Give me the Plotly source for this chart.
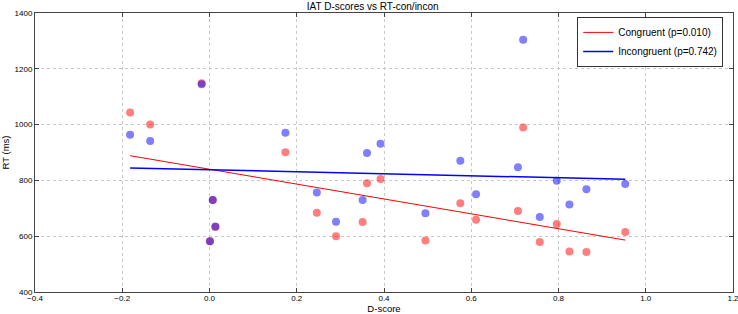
import numpy as np
import plotly.graph_objects as go

d_scores = [-0.182, -0.136, -0.018, 0.0075, 0.0135, 0.001, 0.174, 0.246, 0.290, 0.351, 0.361,
            0.392, 0.495, 0.575, 0.611, 0.719, 0.707, 0.757, 0.796, 0.825, 0.864, 0.953]
rt_congruent = [1043, 1000, 1148, 730, 633, 582, 901, 684, 600, 651, 790,
                805, 585, 718, 659, 990, 690, 579, 644, 545, 543, 615]
rt_incongruent = [964, 941, 1145, 730, 635, 582, 971, 757, 652, 730, 898,
                  931, 682, 870, 750, 1304, 847, 669, 799, 714, 768, 787]
legend_labels = ["Congruent (p=0.010)", "Incongruent (p=0.742)"]
title_text = "IAT D-scores vs RT-con/incon"

x = np.array(d_scores)
FONT = "Liberation Sans, Arial, sans-serif"

fig = go.Figure()
fig.add_trace(go.Scatter(x=d_scores, y=rt_congruent, mode="markers", showlegend=False,
                         marker=dict(color="rgba(255,0,0,0.5)", size=8, line=dict(width=0))))
fig.add_trace(go.Scatter(x=d_scores, y=rt_incongruent, mode="markers", showlegend=False,
                         marker=dict(color="rgba(0,0,255,0.5)", size=8, line=dict(width=0))))

for ys, col, w, name in [(rt_congruent, "red", 1, legend_labels[0]),
                         (rt_incongruent, "blue", 1.5, legend_labels[1])]:
    m, b = np.polyfit(x, np.array(ys, dtype=float), 1)
    xs = np.array([x.min(), x.max()])
    fig.add_trace(go.Scatter(x=xs, y=m * xs + b, mode="lines", name=name,
                             line=dict(color=col, width=w)))

axis_common = dict(showline=True, linecolor="#444", linewidth=1, mirror="ticks",
                   ticks="inside", ticklen=4, tickcolor="#444",
                   showgrid=True, gridcolor="#c8c8c8", griddash="dot", gridwidth=1,
                   zeroline=False, tickfont=dict(family=FONT, size=8, color="black"),
                   automargin=False, ticklabeloverflow="allow")

fig.update_xaxes(range=[-0.4, 1.2], dtick=0.2, tickformat=".1f", ticklabelstandoff=-2,
                 title=dict(text="D-score", font=dict(family=FONT, size=9.5, color="black"), standoff=1),
                 **axis_common)
fig.update_yaxes(range=[400, 1400], dtick=200,
                 title=dict(text="RT (ms)", font=dict(family=FONT, size=9.5, color="black"), standoff=4),
                 **axis_common)

fig.update_layout(
    width=738, height=314,
    margin=dict(l=35, r=5, t=13, b=22),
    paper_bgcolor="white", plot_bgcolor="white",
    title=dict(text=title_text, x=0.505, xanchor="center", y=0.99, yanchor="top",
               font=dict(family=FONT, size=10, color="black")),
    legend=dict(x=0.986, xanchor="right", y=0.986, yanchor="top",
                bordercolor="#333", borderwidth=1, bgcolor="white",
                font=dict(family=FONT, size=10, color="black"),
                tracegroupgap=0, itemwidth=30),
    showlegend=True,
)

fig.write_html("out.html", config={"displayModeBar": False},
               post_script="document.body.style.margin='0';document.body.style.overflow='hidden';")
